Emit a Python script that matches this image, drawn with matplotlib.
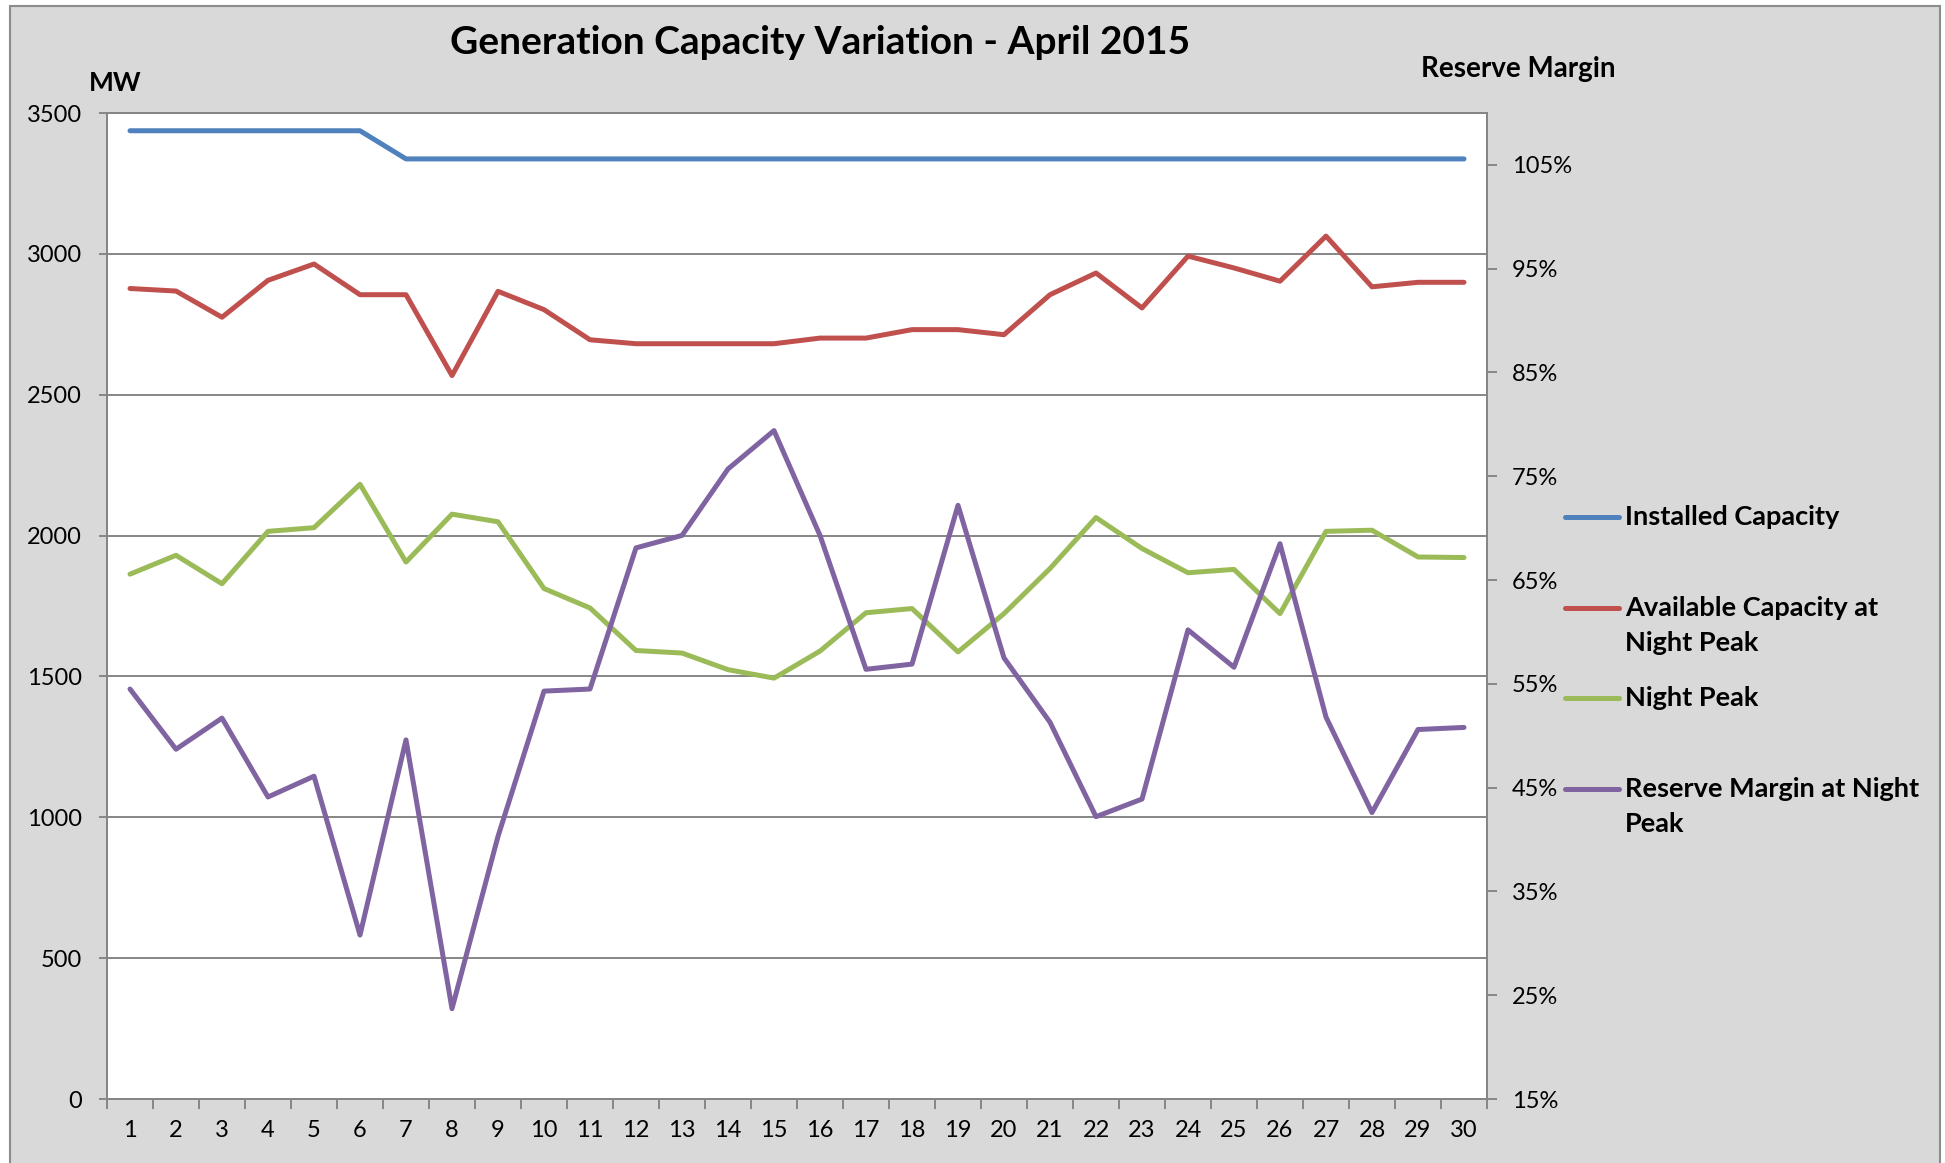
import textwrap
import numpy as np
import matplotlib
matplotlib.use("Agg")
import matplotlib.pyplot as plt
from matplotlib.lines import Line2D
from matplotlib.patches import Rectangle
from matplotlib.ticker import MultipleLocator, FuncFormatter

plt.rcParams['font.family'] = ['Lato', 'DejaVu Sans']

# daily figures for April 2015
days = list(range(1, 31))
installed = [3437, 3437, 3437, 3437, 3437, 3437, 3337, 3337, 3337, 3337,
             3337, 3337, 3337, 3337, 3337, 3337, 3337, 3337, 3337, 3337,
             3337, 3337, 3337, 3337, 3337, 3337, 3337, 3337, 3337, 3337]
available = [2877, 2868, 2775, 2906, 2964, 2855, 2855, 2568, 2867, 2802,
             2695, 2681, 2681, 2681, 2681, 2701, 2701, 2731, 2731, 2713,
             2855, 2932, 2808, 2992, 2950, 2903, 3063, 2883, 2899, 2899]
night_peak = [1863, 1930, 1829, 2015, 2028, 2182, 1906, 2076, 2049, 1812,
              1743, 1592, 1583, 1524, 1494, 1590, 1726, 1741, 1587, 1723,
              1883, 2064, 1954, 1868, 1880, 1723, 2015, 2019, 1924, 1922]
reserve_pct = [54.5, 48.7, 51.7, 44.1, 46.1, 30.8, 49.6, 23.7, 40.3, 54.3,
               54.5, 68.1, 69.3, 75.7, 79.4, 69.3, 56.4, 56.9, 72.2, 57.5,
               51.3, 42.2, 43.9, 60.2, 56.6, 68.5, 51.8, 42.6, 50.6, 50.8]

names = ["Installed Capacity", "Available Capacity at Night Peak",
         "Night Peak", "Reserve Margin at Night Peak"]
colors = ["#4F81BD", "#C0504D", "#9BBB59", "#8064A2"]

W, H = 1945, 1163
grid_c = "#868686"
lw = 3.6

fig = plt.figure(figsize=(W / 100, H / 100), dpi=100)
fig.patch.set_facecolor("white")
fig.patches.append(Rectangle((10 / W, -0.02), 1930 / W, 1 - 6 / H + 0.02,
                             transform=fig.transFigure, facecolor="#D9D9D9",
                             edgecolor="#8C8C8C", lw=1.5, zorder=-5))

ax = fig.add_axes([107 / W, 1 - 1099 / H, 1380 / W, 986 / H])
ax.set_facecolor("white")
for vals, c in zip([installed, available, night_peak], colors[:3]):
    ax.plot(days, vals, color=c, lw=lw, solid_capstyle="round",
            solid_joinstyle="round", zorder=3)

ax.set_xlim(0.5, 30.5)
ax.set_ylim(0, 3500)
ax.yaxis.set_major_locator(MultipleLocator(500))
ax.grid(axis="y", color=grid_c, lw=1.4)
ax.set_axisbelow(True)
ax.set_xticks(np.arange(0.5, 31, 1))
ax.set_xticklabels([])
ax.set_xticks(days, minor=True)
ax.set_xticklabels([str(d) for d in days], minor=True)
ax.tick_params(axis="x", which="major", length=7, width=1.4, color=grid_c)
ax.tick_params(axis="x", which="minor", length=0, pad=15, labelsize=17)
ax.tick_params(axis="y", length=6, width=1.4, color=grid_c, pad=12,
               labelsize=17)

ax2 = ax.twinx()
ax2.plot(days, [r / 100 for r in reserve_pct], color=colors[3], lw=lw,
         solid_capstyle="round", solid_joinstyle="round", zorder=3)
ax2.set_ylim(0.15, 1.10)
ax2.set_yticks(np.arange(0.15, 1.06, 0.1))
ax2.yaxis.set_major_formatter(FuncFormatter(lambda v, p: f"{v * 100:.0f}%"))
ax2.tick_params(axis="y", length=7, width=1.4, color=grid_c, pad=11,
                labelsize=17)

for a in (ax, ax2):
    for s in a.spines.values():
        s.set_color(grid_c)
        s.set_linewidth(1.4)

fig.text(820 / W, 1 - 43 / H, "Generation Capacity Variation - April 2015",
         ha="center", va="center", fontsize=28, fontweight="bold")
fig.text(89 / W, 1 - 83 / H, "MW", ha="left", va="center", fontsize=19,
         fontweight="bold")
fig.text(1421 / W, 1 - 69 / H, "Reserve Margin", ha="left", va="center",
         fontsize=20, fontweight="bold")

# legend on the right, handle level with the first line of each label
leg_y = [517, 608, 698, 789]
line_gap = 35
for name, c, y in zip(names, colors, leg_y):
    fy = 1 - y / H
    fig.add_artist(Line2D([1565 / W, 1619 / W], [fy, fy], color=c, lw=lw,
                          solid_capstyle="round", transform=fig.transFigure))
    for k, part in enumerate(textwrap.wrap(name, 23)):
        fig.text(1625 / W, 1 - (y + k * line_gap) / H, part, ha="left",
                 va="center", fontsize=19.5, fontweight="bold")

fig.savefig("out.png", dpi=100)
